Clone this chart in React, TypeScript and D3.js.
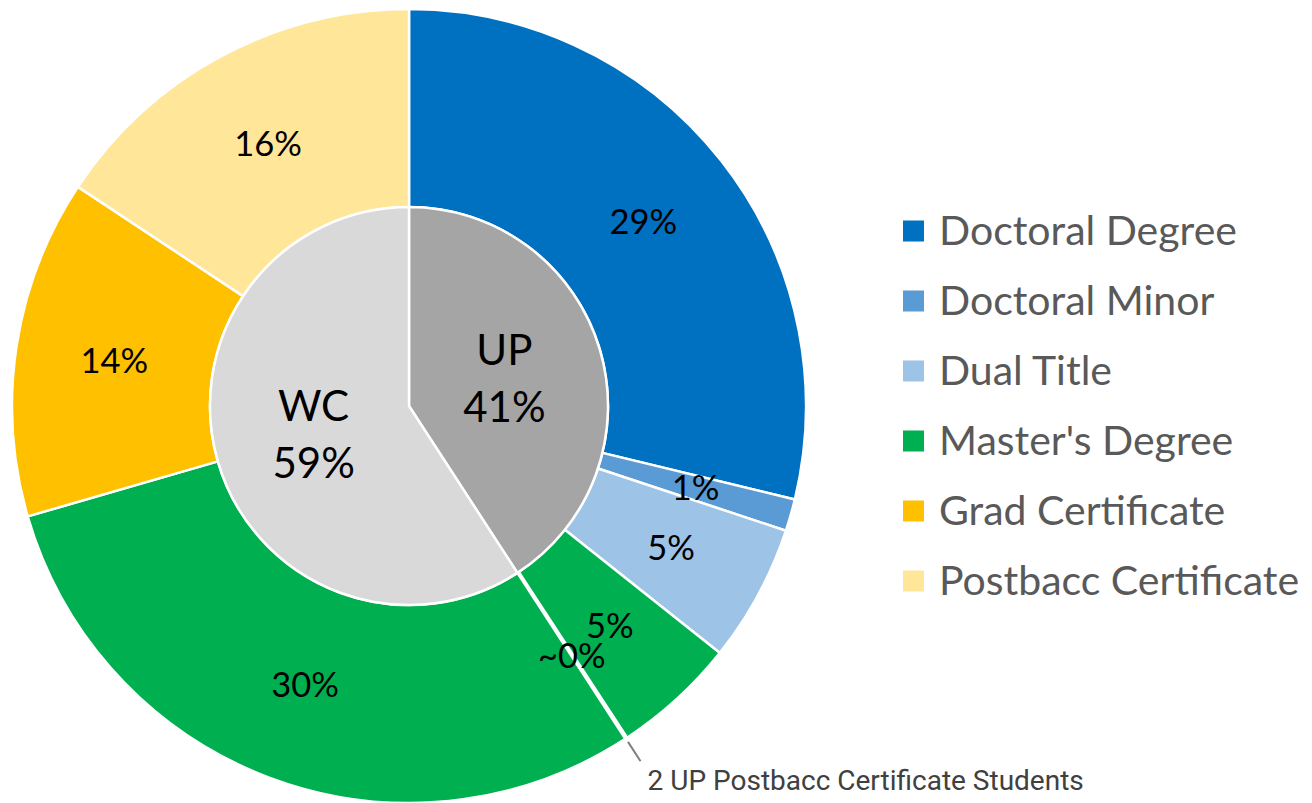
import React from "react";
import * as d3 from "d3";

const outerCategories = [
  "Doctoral Degree",
  "Doctoral Minor",
  "Dual Title",
  "Master's Degree",
  "Postbacc Certificate",
  "Master's Degree",
  "Grad Certificate",
  "Postbacc Certificate",
];
const outerCampus = ["UP", "UP", "UP", "UP", "UP", "WC", "WC", "WC"];
const outerValues = [28.8, 1.3, 5.6, 5.1, 0.05, 29.7, 13.8, 15.7];
const outerLabels = ["29%", "1%", "5%", "5%", "~0%", "30%", "14%", "16%"];

const innerCategories = ["UP", "WC"];
const innerLabels = ["41%", "59%"];

const legendItems = [
  "Doctoral Degree",
  "Doctoral Minor",
  "Dual Title",
  "Master's Degree",
  "Grad Certificate",
  "Postbacc Certificate",
];
const categoryColors = ["#0070C0", "#5B9BD5", "#9DC3E6", "#00B050", "#FFC000", "#FFE699"];
const innerColors = ["#A5A5A5", "#D9D9D9"];

const annotationText = "2 UP Postbacc Certificate Students";

const W = 1312;
const H = 803;
const cx = 409;
const cy = 406;
const rInner = 199;
const rOuter = 397;

export default function App() {
  const color = d3.scaleOrdinal<string, string>().domain(legendItems).range(categoryColors);
  const innerColor = d3.scaleOrdinal<string, string>().domain(innerCategories).range(innerColors);

  const outerData = outerCategories.map((c, i) => ({
    category: c,
    campus: outerCampus[i],
    value: outerValues[i],
    label: outerLabels[i],
  }));
  const innerData = innerCategories.map((c, i) => ({
    category: c,
    value: d3.sum(outerData.filter((d) => d.campus === c), (d) => d.value),
    label: innerLabels[i],
  }));

  const pie = d3.pie<any>().sort(null).value((d: any) => d.value);
  const outerArcs = pie(outerData);
  const innerArcs = pie(innerData);

  const outerArc = d3.arc<any>().innerRadius(rInner).outerRadius(rOuter);
  const innerArc = d3.arc<any>().innerRadius(0).outerRadius(rInner);

  // leader for tiny slice
  const tiny = outerArcs[4];
  const tinyMid = (tiny.startAngle + tiny.endAngle) / 2;
  const lx1 = Math.sin(tinyMid) * (rOuter + 4);
  const ly1 = -Math.cos(tinyMid) * (rOuter + 4);
  const lx2 = Math.sin(tinyMid) * (rOuter + 27);
  const ly2 = -Math.cos(tinyMid) * (rOuter + 27);

  const legendY = d3.scalePoint<string>().domain(legendItems).range([231, 581]);

  const calibriLike = "Lato, 'Open Sans', sans-serif";

  return (
    <svg
      width={W}
      height={H}
      style={{ position: "absolute", left: 0, top: 0, background: "#fff" }}
    >
      <g transform={`translate(${cx},${cy})`}>
        {outerArcs.map((a, i) => (
          <path
            key={"o" + i}
            d={outerArc(a) as string}
            fill={color(a.data.category)}
            stroke="#fff"
            strokeWidth={a.value < 1 ? 4.5 : 2.5}
            strokeLinejoin="round"
          />
        ))}
        {innerArcs.map((a, i) => (
          <path
            key={"i" + i}
            d={innerArc(a) as string}
            fill={innerColor(a.data.category)}
            stroke="#fff"
            strokeWidth={2.5}
            strokeLinejoin="round"
          />
        ))}
        {outerArcs.map((a, i) => {
          const [x, y] = outerArc.centroid(a);
          return (
            <text
              key={"ol" + i}
              x={x}
              y={y + 12}
              textAnchor="middle"
              fontFamily={calibriLike}
              fontSize={34.5}
              fill="#000"
            >
              {a.data.label}
            </text>
          );
        })}
        {innerArcs.map((a, i) => {
          const [x, y] = innerArc.centroid(a);
          return (
            <text
              key={"il" + i}
              textAnchor="middle"
              fontFamily={calibriLike}
              fontSize={42}
              fill="#000"
            >
              <tspan x={x} y={y - 28 + 15}>
                {a.data.category}
              </tspan>
              <tspan x={x} y={y + 29 + 15}>
                {a.data.label}
              </tspan>
            </text>
          );
        })}
        <line x1={lx1} y1={ly1} x2={lx2} y2={ly2} stroke="#7F7F7F" strokeWidth={2} />
      </g>
      <text
        x={cx + lx2 + 7}
        y={790}
        fontFamily="Roboto, sans-serif"
        fontSize={28}
        fill="#404040"
      >
        {annotationText}
      </text>
      {legendItems.map((c) => {
        const y = legendY(c) as number;
        return (
          <g key={c}>
            <rect x={903} y={y - 10.5} width={21} height={21} fill={color(c)} />
            <text x={939} y={y + 14} fontFamily={calibriLike} fontSize={41} fill="#595959">
              {c}
            </text>
          </g>
        );
      })}
    </svg>
  );
}
